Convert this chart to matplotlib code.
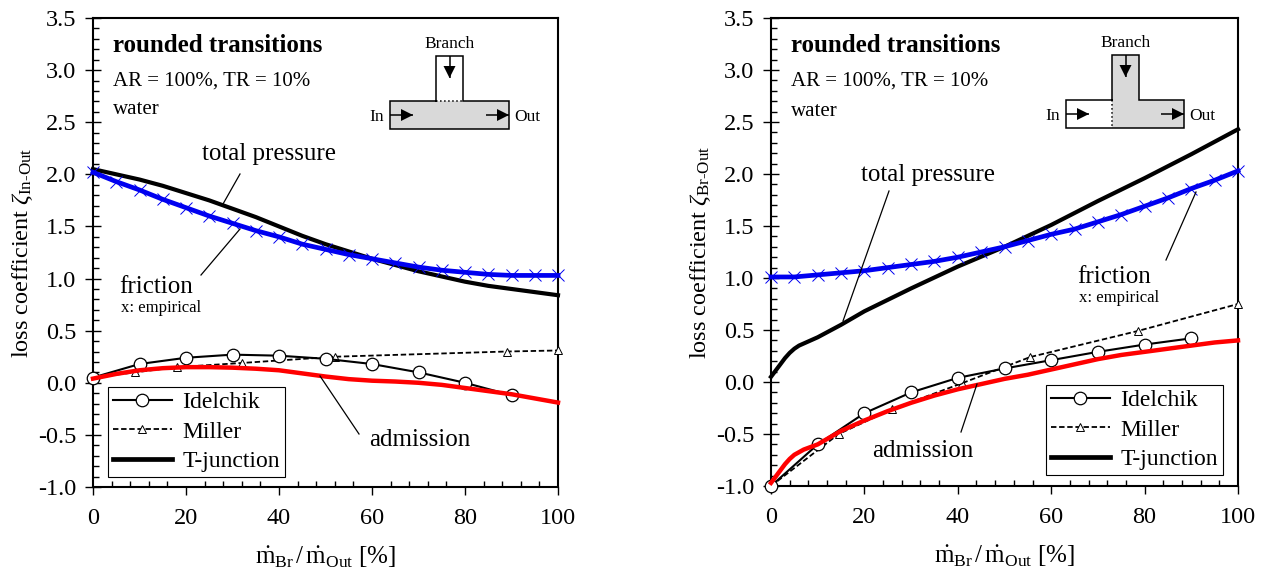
import matplotlib
matplotlib.use('Agg')
import matplotlib.pyplot as plt
from matplotlib.lines import Line2D
from matplotlib.patches import Polygon, Rectangle
from matplotlib.ticker import MultipleLocator, FormatStrFormatter

plt.rcParams['font.family'] = ['Liberation Serif', 'DejaVu Serif']
plt.rcParams['mathtext.fontset'] = 'custom'
plt.rcParams['mathtext.rm'] = 'Liberation Serif'
plt.rcParams['mathtext.it'] = 'Liberation Serif:italic'
plt.rcParams['mathtext.bf'] = 'Liberation Serif:bold'

W, H = 1266, 571

# Left panel: In-Out
friction_x = [0, 5, 10, 15, 20, 25, 30, 35, 40, 45, 50, 55, 60, 65, 70, 75, 80, 85, 90, 95, 100]
left_friction = [2.02, 1.93, 1.85, 1.76, 1.68, 1.60, 1.53, 1.46, 1.40, 1.33, 1.28, 1.23, 1.19, 1.15, 1.11, 1.08, 1.06, 1.04, 1.03, 1.03, 1.03]
left_total_x = [0, 5, 10, 15, 20, 25, 30, 35, 40, 45, 50, 55, 60, 65, 70, 75, 80, 85, 90, 95, 100]
left_total = [2.05, 2.00, 1.95, 1.89, 1.82, 1.75, 1.67, 1.59, 1.50, 1.41, 1.33, 1.26, 1.19, 1.13, 1.07, 1.02, 0.97, 0.93, 0.90, 0.87, 0.84]
idel_x = [0, 10, 20, 30, 40, 50, 60, 70, 80, 90]
left_idel = [0.05, 0.18, 0.24, 0.27, 0.26, 0.23, 0.18, 0.10, 0.0, -0.12]
left_miller_x = [0, 9, 18, 32, 52, 89, 100]
left_miller = [0.05, 0.10, 0.15, 0.19, 0.25, 0.30, 0.31]
left_adm_x = [0, 5, 10, 15, 20, 25, 30, 35, 40, 45, 50, 55, 60, 65, 70, 75, 80, 85, 90, 95, 100]
left_adm = [0.04, 0.085, 0.12, 0.14, 0.15, 0.15, 0.145, 0.135, 0.12, 0.09, 0.06, 0.035, 0.02, 0.012, 0.0, -0.02, -0.05, -0.08, -0.11, -0.15, -0.19]

# Right panel: Br-Out
right_friction = [1.01, 1.01, 1.03, 1.05, 1.07, 1.10, 1.13, 1.16, 1.20, 1.25, 1.30, 1.36, 1.42, 1.47, 1.54, 1.61, 1.69, 1.77, 1.86, 1.94, 2.03]
right_total_x = [0, 1, 2, 3, 4, 5, 6, 8, 10, 15, 20, 30, 40, 50, 60, 70, 80, 90, 100]
right_total = [0.05, 0.11, 0.17, 0.23, 0.28, 0.32, 0.35, 0.39, 0.43, 0.55, 0.68, 0.90, 1.11, 1.30, 1.51, 1.74, 1.96, 2.19, 2.43]
right_idel = [-1.0, -0.6, -0.3, -0.1, 0.04, 0.13, 0.21, 0.29, 0.36, 0.42]
right_miller_x = [0, 14.5, 26, 41, 55.5, 78.5, 100]
right_miller = [-1.0, -0.5, -0.26, -0.01, 0.24, 0.49, 0.75]
right_adm_x = [0, 1, 2, 3, 4, 5, 7, 10, 15, 20, 25, 30, 35, 40, 45, 50, 55, 60, 65, 70, 75, 80, 85, 90, 95, 100]
right_adm = [-0.97, -0.91, -0.85, -0.79, -0.74, -0.70, -0.65, -0.60, -0.47, -0.37, -0.28, -0.20, -0.13, -0.07, -0.02, 0.03, 0.07, 0.12, 0.17, 0.22, 0.26, 0.29, 0.32, 0.35, 0.38, 0.40]

fig = plt.figure(figsize=(W / 100, H / 100), dpi=100)

# overlay in pixel coordinates for texts, leaders and the sketches
ov = fig.add_axes([0, 0, 1, 1], zorder=10)
ov.set_xlim(0, W)
ov.set_ylim(H, 0)
ov.axis('off')


def make_axes(x0, x1, y0, y1, ylabel):
    ax = fig.add_axes([x0 / W, 1 - y1 / H, (x1 - x0) / W, (y1 - y0) / H])
    ax.set_xlim(0, 100)
    ax.set_ylim(-1, 3.5)
    ax.xaxis.set_major_locator(MultipleLocator(20))
    ax.xaxis.set_minor_locator(MultipleLocator(4))
    ax.yaxis.set_major_locator(MultipleLocator(0.5))
    ax.yaxis.set_minor_locator(MultipleLocator(0.1))
    ax.yaxis.set_major_formatter(FormatStrFormatter('%.1f'))
    ax.tick_params(which='major', length=6, width=1, direction='out', labelsize=17.5, pad=9)
    ax.tick_params(axis='y', which='major', direction='inout', length=12, pad=6)
    ax.tick_params(which='minor', length=4, width=1, direction='in')
    for s in ax.spines.values():
        s.set_linewidth(1.5)
    ax.set_xlabel(r'$\dot{\mathrm{m}}_{\mathrm{Br}}\,/\,\dot{\mathrm{m}}_{\mathrm{Out}}$ [%]', fontsize=18, labelpad=11)
    ax.set_ylabel(ylabel, fontsize=17.5, labelpad=2)
    return ax


def draw_curves(ax, total_x, total, friction, idel, miller_x, miller, adm_x, adm):
    ax.plot(total_x, total, color='black', lw=3, zorder=3, clip_on=False)
    ax.plot(friction_x, friction, color='#0000f0', lw=3.4, zorder=4, clip_on=False)
    ax.plot(friction_x, friction, ls='none', marker='x', ms=8, mew=0.7, color='#0000f0', zorder=5, clip_on=False)
    ax.plot(miller_x, miller, color='black', lw=1.3, ls=(0, (3, 1.5)), marker='^', ms=5.5, mfc='white', mew=0.7, zorder=3, clip_on=False)
    ax.plot(idel_x, idel, color='black', lw=1.5, marker='o', ms=9, mfc='white', mew=0.9, zorder=4, clip_on=False)
    ax.plot(adm_x, adm, color='#ff0000', lw=3.2, zorder=5, clip_on=False)


handles = [
    Line2D([], [], color='black', lw=1.5, marker='o', ms=9, mfc='white', mew=0.9),
    Line2D([], [], color='black', lw=1.3, ls=(0, (3, 1.5)), marker='^', ms=5.5, mfc='white', mew=0.7),
    Line2D([], [], color='black', lw=3.4),
]
labels = ['Idelchik', 'Miller', 'T-junction']


def add_legend(ax, x, y):
    leg = ax.legend(handles, labels, loc='upper left', bbox_to_anchor=(x, y), bbox_transform=ov.transData,
                    fontsize=17, fancybox=False, framealpha=1, edgecolor='black', borderaxespad=0,
                    handlelength=2.5, handletextpad=0.45, labelspacing=0.33, borderpad=0.2)
    leg.get_frame().set_linewidth(0.8)
    leg.set_zorder(20)


def arrow(x0, y0, x1, y1):
    ov.plot([x0, x1], [y0, y1], color='black', lw=1.1, solid_capstyle='butt')
    if x0 == x1:
        tri = [(x1 - 6, y1 - 12), (x1 + 6, y1 - 12), (x1, y1)]
    else:
        tri = [(x1 - 12, y1 - 6), (x1 - 12, y1 + 6), (x1, y1)]
    ov.add_patch(Polygon(tri, closed=True, color='black', lw=0))


def sketch(mx0, mx1, my0, my1, bx0, bx1, by0, gray_main_only):
    grey = '#d9d9d9'
    if gray_main_only:
        ov.add_patch(Rectangle((bx0, by0), bx1 - bx0, my0 - by0, fc='white', ec='none'))
        ov.add_patch(Rectangle((mx0, my0), mx1 - mx0, my1 - my0, fc=grey, ec='none'))
        ov.plot([bx0, bx1], [my0, my0], color='black', lw=1.1, ls=':')
    else:
        ov.add_patch(Rectangle((bx0, by0), bx1 - bx0, my0 - by0, fc=grey, ec='none'))
        ov.add_patch(Rectangle((bx0, my0), mx1 - bx0, my1 - my0, fc=grey, ec='none'))
        ov.plot([bx0, bx0], [my0, my1], color='black', lw=1.1, ls=':')
    ov.plot([bx0, mx0, mx0, mx1, mx1, bx1, bx1, bx0, bx0],
            [my0, my0, my1, my1, my0, my0, by0, by0, my0],
            color='black', lw=1.1, solid_joinstyle='miter')
    xc = (bx0 + bx1) / 2
    ymid = (my0 + my1) / 2
    arrow(xc, by0, xc, by0 + 22)
    arrow(mx0, ymid, mx0 + 23, ymid)
    arrow(mx1 - 23, ymid, mx1, ymid)
    ov.text(xc, by0 - 12, 'Branch', ha='center', va='center', fontsize=12.5)
    ov.text(mx0 - 13, ymid + 2, 'In', ha='center', va='center', fontsize=12.5)
    ov.text(mx1 + 18, ymid + 2, 'Out', ha='center', va='center', fontsize=12.5)


def leader(x0, y0, x1, y1):
    ov.plot([x0, x1], [y0, y1], color='black', lw=0.9)


def notes(x, y_ar, y_water):
    ov.text(x, 45, 'rounded transitions', fontsize=18, fontweight='bold', va='center')
    ov.text(x, y_ar + 1, 'AR = 100%, TR = 10%', fontsize=15, va='center')
    ov.text(x, y_water + 1, 'water', fontsize=15, va='center')


# left panel
ax1 = make_axes(93, 558, 18, 487, r'loss coefficient $\zeta_{\mathrm{In}\text{-}\mathrm{Out}}$')
draw_curves(ax1, left_total_x, left_total, left_friction, left_idel, left_miller_x, left_miller, left_adm_x, left_adm)
add_legend(ax1, 108, 387)
notes(113, 80, 109)
sketch(390, 509, 101, 129, 436, 463, 56, True)
ov.text(202, 154, 'total pressure', fontsize=18, va='center')
ov.text(119, 287, 'friction', fontsize=18, va='center')
ov.text(121, 308, 'x: empirical', fontsize=12, va='center')
ov.text(369, 440, 'admission', fontsize=18, va='center')
leader(240, 174, 223, 204)
leader(240, 229, 201, 275)
leader(320, 376, 359, 434)

# right panel
ax2 = make_axes(771, 1238, 18, 486, r'loss coefficient $\zeta_{\mathrm{Br}\text{-}\mathrm{Out}}$')
draw_curves(ax2, right_total_x, right_total, right_friction, right_idel, right_miller_x, right_miller, right_adm_x, right_adm)
add_legend(ax2, 1046, 385)
notes(791, 80, 111)
sketch(1066, 1184, 100, 128, 1112, 1139, 55, False)
ov.text(861, 175, 'total pressure', fontsize=18, va='center')
ov.text(1077, 277, 'friction', fontsize=18, va='center')
ov.text(1079, 298, 'x: empirical', fontsize=12, va='center')
ov.text(872, 451, 'admission', fontsize=18, va='center')
leader(889, 191, 843, 321)
leader(1196, 192, 1166, 260)
leader(977, 384, 961, 432)

ov.set_xlim(0, W)
ov.set_ylim(H, 0)
fig.savefig('out.png', dpi=100)
